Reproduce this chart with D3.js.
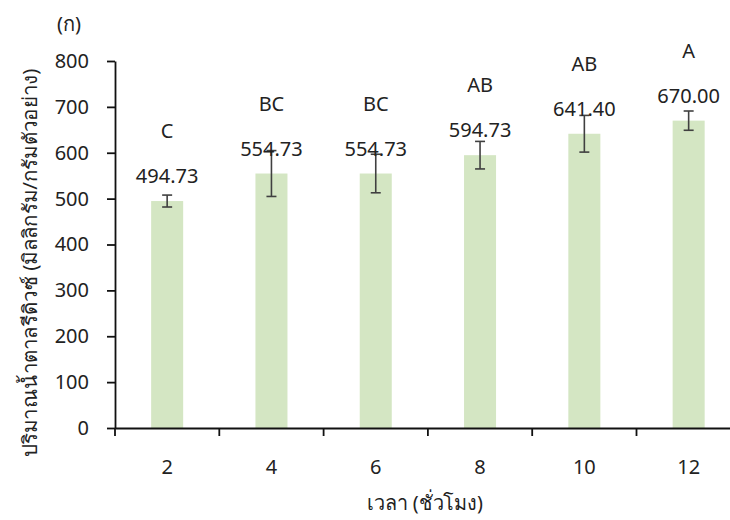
<!DOCTYPE html>
<html><head><meta charset="utf-8">
<script src="https://cdn.jsdelivr.net/npm/d3@7"></script>
<style>body{margin:0;background:#fff}svg{display:block}text{font-family:"Noto Sans","DejaVu Sans",sans-serif;fill:#222}</style>
</head><body><svg id="c" width="730" height="520"></svg>
<script>
const categories = ["2","4","6","8","10","12"];
const means = [494.73, 554.73, 554.73, 594.73, 641.40, 670.00];
const errors = [13, 50, 42, 30, 40, 21];
const letters = ["C","BC","BC","AB","AB","A"];
const valueLabels = ["494.73","554.73","554.73","594.73","641.40","670.00"];
const yTicks = [0,100,200,300,400,500,600,700,800];

const FONT = '"Noto Sans","DejaVu Sans",sans-serif';
const FS = 20;
const svg = d3.select("#c");
const mLeft = 115, mTop = 61, mBottom = 428, step = 104.3;
const x = d3.scaleBand().domain(categories).range([mLeft, mLeft + step*categories.length]).paddingInner(0.693).paddingOuter(0.3465);
const y = d3.scaleLinear().domain([0,800]).range([mBottom, mTop]);

// bars
svg.selectAll("rect.bar").data(means).join("rect")
  .attr("x",(d,i)=>x(categories[i])).attr("width",x.bandwidth())
  .attr("y",d=>y(d)).attr("height",d=>y(0)-y(d)).attr("fill","#d4e6c3");

// error bars
const eg = svg.append("g").attr("stroke","#404040").attr("stroke-width",1.6);
means.forEach((m,i)=>{
  const cx = x(categories[i]) + x.bandwidth()/2;
  eg.append("line").attr("x1",cx).attr("x2",cx).attr("y1",y(m+errors[i])).attr("y2",y(m-errors[i]));
  [m+errors[i], m-errors[i]].forEach(v=>eg.append("line").attr("x1",cx-5).attr("x2",cx+5).attr("y1",y(v)).attr("y2",y(v)));
});

// value labels and letters
means.forEach((m,i)=>{
  const cx = x(categories[i]) + x.bandwidth()/2;
  svg.append("text").attr("x",cx).attr("y",y(m)-18).attr("text-anchor","middle").attr("font-size",FS).text(valueLabels[i]);
  svg.append("text").attr("x",cx).attr("y",y(m)-63).attr("text-anchor","middle").attr("font-size",FS).text(letters[i]);
});

// y axis
const ya = svg.append("g").attr("transform",`translate(${mLeft},0)`)
  .call(d3.axisLeft(y).tickValues(yTicks).tickSize(8).tickPadding(18).tickSizeOuter(0));
ya.attr("font-family",FONT).attr("font-size",FS);
ya.selectAll("text").attr("fill","#222");
ya.selectAll("line,path").attr("stroke","#111").attr("stroke-width",1.8);

// x axis
const xa = svg.append("g").attr("transform",`translate(0,${mBottom})`)
  .call(d3.axisBottom(x).tickSize(0).tickPadding(32).tickSizeOuter(0));
xa.attr("font-family",FONT).attr("font-size",FS);
xa.selectAll("text").attr("fill","#222");
xa.select("path").attr("stroke","#111").attr("stroke-width",1.8);
d3.range(categories.length+1).forEach(i=>{
  const bx = mLeft + i*x.step();
  svg.append("line").attr("x1",bx).attr("x2",bx).attr("y1",mBottom).attr("y2",mBottom+8).attr("stroke","#111").attr("stroke-width",1.8);
});

// titles
svg.append("text").attr("x",69).attr("y",31).attr("text-anchor","middle").attr("font-size",FS).text("(ก)");
svg.append("text").attr("x",425).attr("y",510).attr("text-anchor","middle").attr("font-size",FS)
  .attr("textLength",116).attr("lengthAdjust","spacingAndGlyphs").text("เวลา (ชั่วโมง)");
svg.append("text").attr("transform","translate(37,263) rotate(-90)").attr("text-anchor","middle").attr("font-size",FS)
  .attr("textLength",389).attr("lengthAdjust","spacingAndGlyphs").text("ปริมาณน้ำตาลรีดิวซ์ (มิลลิกรัม/กรัมตัวอย่าง)");
</script></body></html>
